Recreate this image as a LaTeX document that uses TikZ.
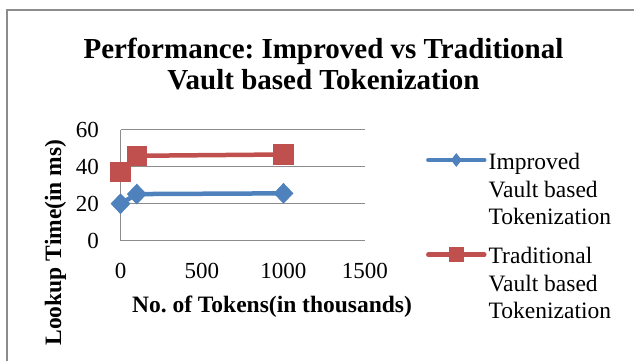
\documentclass[tikz,border=0pt]{standalone}
\usepackage{fontspec}
\setmainfont{Liberation Serif}
\usetikzlibrary{shapes.geometric}
\definecolor{impblue}{HTML}{4F81BD}
\definecolor{tradred}{HTML}{C0504D}
\definecolor{gridgray}{HTML}{8C8C8C}
\frenchspacing

\begin{document}
\begin{tikzpicture}[x=1pt, y=-1pt,
  titletext/.style={font=\fontsize{29}{32}\selectfont\bfseries, inner sep=0pt, anchor=base},
  ticklabel/.style={font=\fontsize{23}{27}\selectfont, inner sep=0pt},
  axistitle/.style={font=\fontsize{23.5}{28}\selectfont\bfseries, inner sep=0pt},
  legendtext/.style={font=\fontsize{23.5}{27.3}\selectfont, align=left, anchor=north west, inner sep=0pt},
  gridline/.style={gridgray, line width=1.2pt},
  series/.style={line width=4.5pt, line join=round},
  dmark/.style={diamond, fill=impblue, inner sep=0pt, minimum width=20pt, minimum height=21pt},
  smark/.style={rectangle, fill=tradred, inner sep=0pt, minimum size=20.5pt},
]
  \useasboundingbox (0,0) rectangle (634,361);
  \clip (0,0) rectangle (634,361);
  % chart frame, right and bottom edges fall off the page
  \draw[gridgray, line width=2pt] (7,10) rectangle (660,390);

  % title
  \node[titletext] (title1) at (323.5,58.3) {Performance: Improved vs Traditional};
  \node[titletext] (title2) at (323.5,89.3) {Vault based Tokenization};

  % plot area: x 0..1500, y 0..60
  \begin{scope}[shift={(120.5,240.7)}, x=0.163pt, y=1.85pt]
    \foreach \v in {0,20,40,60} {
      \draw[gridline] (0,\v) -- (1500,\v);
      \node[ticklabel, anchor=east] (yt\v) at ([xshift=-21.5pt]0,\v) {\v};
    }
    \draw[gridline] (0,0) -- (0,60);
    \foreach \v in {0,500,1000,1500}
      \node[ticklabel] (xt\v) at ([yshift=-30.1pt]\v,0) {\v};

    % series points
    \coordinate (imp1) at (0,20);
    \coordinate (imp2) at (100,25.2);
    \coordinate (imp3) at (1000,25.6);
    \coordinate (trd1) at (0,37.1);
    \coordinate (trd2) at (100,45.9);
    \coordinate (trd3) at (1000,46.6);

    \draw[series, impblue] (imp1) -- (imp2) -- (imp3);
    \draw[series, tradred] (trd1) -- (trd2) -- (trd3);
    \foreach \i in {1,2,3} {
      \node[dmark] (impm\i) at (imp\i) {};
      \node[smark] (trdm\i) at (trd\i) {};
    }
  \end{scope}

  % axis titles
  \node[axistitle] (xtitle) at (272,306.5) {No. of Tokens(in thousands)};
  \node[axistitle, rotate=90] (ytitle) at (55.5,242.5) {Lookup Time(in ms)};

  % legend
  \coordinate (lgA1) at (428.3,160);
  \coordinate (lgA2) at (484.3,160);
  \coordinate (lgB1) at (428.3,254.7);
  \coordinate (lgB2) at (484.3,254.7);
  \draw[series, impblue, line cap=round] (lgA1) -- (lgA2);
  \draw[series, tradred, line cap=round] (lgB1) -- (lgB2);
  \node[dmark, minimum width=11pt, minimum height=14pt] (lgAm) at (456.3,160) {};
  \node[smark, minimum size=14.7pt] (lgBm) at (456.3,254.7) {};
  \node[legendtext] (lgAtext) at (488.5,153.3) {Improved\\Vault based\\Tokenization};
  \node[legendtext] (lgBtext) at (488.5,247.3) {Traditional\\Vault based\\Tokenization};
\end{tikzpicture}
\end{document}
